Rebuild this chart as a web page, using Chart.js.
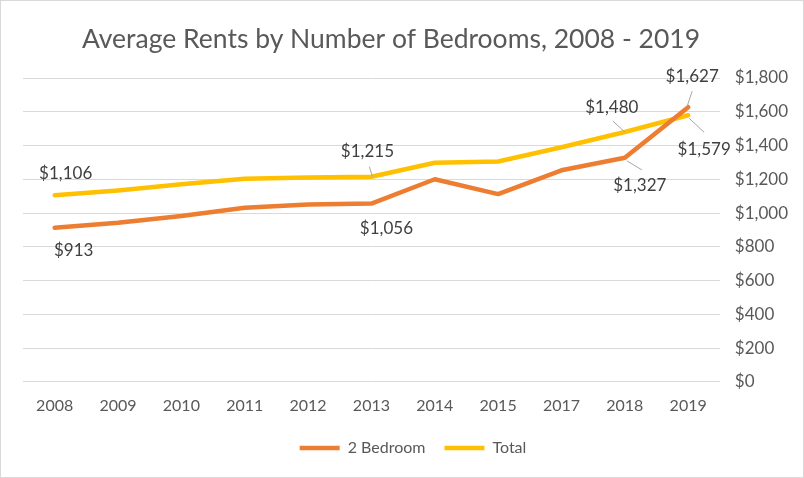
<!DOCTYPE html>
<html>
<head>
<meta charset="utf-8">
<script src="https://cdn.jsdelivr.net/npm/chart.js@4"></script>
<style>
  html, body { margin: 0; padding: 0; background: #fff; }
  #wrap { width: 802px; height: 476px; border: 1px solid #d9d9d9; position: relative; }
</style>
</head>
<body>
<div id="wrap"><canvas id="rents-chart" width="802" height="476"></canvas></div>
<script>
// 数据
const years = ['2008', '2009', '2010', '2011', '2012', '2013', '2014', '2015', '2017', '2018', '2019'];
const bedroom2 = [913, 943, 982, 1031, 1051, 1056, 1200, 1112, 1253, 1327, 1627];
const total = [1106, 1134, 1170, 1203, 1210, 1215, 1298, 1305, 1390, 1480, 1579];
const yTicks = [0, 200, 400, 600, 800, 1000, 1200, 1400, 1600, 1800];
const chartTitle = 'Average Rents by Number of Bedrooms, 2008 - 2019';

const FONT = 'Lato, "Open Sans", sans-serif';

// 标注：数据集、索引、相对点的偏移、引导线
const callouts = [
  { ds: 1, i: 0, dx: 11, dy: -22 },
  { ds: 0, i: 0, dx: 19, dy: 23 },
  { ds: 1, i: 5, dx: -4, dy: -25, line: [-2, -10, 1, 0] },
  { ds: 0, i: 5, dx: 15, dy: 25 },
  { ds: 1, i: 9, dx: -13, dy: -24, line: [-12, -11, 0, 0] },
  { ds: 0, i: 9, dx: 15, dy: 28, line: [2, 3, 17, 12] },
  { ds: 0, i: 10, dx: 4, dy: -31, line: [4, -16, -1, -1] },
  { ds: 1, i: 10, dx: 16, dy: 34, line: [1, 3, 16, 17] }
];

const fmt = v => '$' + v.toLocaleString('en-US');

// 标题（Excel 的标题略偏左，自己画）
const titlePlugin = {
  id: 'leftTitle',
  afterDraw(chart) {
    const ctx = chart.ctx;
    ctx.save();
    ctx.fillStyle = '#595959';
    ctx.font = '26.5px ' + FONT;
    ctx.textAlign = 'center';
    ctx.textBaseline = 'middle';
    ctx.fillText(chartTitle, 390, 38);
    ctx.restore();
  }
};

const calloutPlugin = {
  id: 'callouts',
  afterDatasetsDraw(chart) {
    const ctx = chart.ctx;
    ctx.save();
    callouts.forEach(c => {
      const pt = chart.getDatasetMeta(c.ds).data[c.i];
      const value = chart.data.datasets[c.ds].data[c.i];
      if (c.line) {
        ctx.strokeStyle = '#a6a6a6';
        ctx.lineWidth = 1;
        ctx.beginPath();
        ctx.moveTo(pt.x + c.line[0], pt.y + c.line[1]);
        ctx.lineTo(pt.x + c.line[2], pt.y + c.line[3]);
        ctx.stroke();
      }
      ctx.fillStyle = '#404040';
      ctx.font = '17px ' + FONT;
      ctx.textAlign = 'center';
      ctx.textBaseline = 'middle';
      ctx.fillText(fmt(value), pt.x + c.dx, pt.y + c.dy);
    });
    ctx.restore();
  }
};

new Chart(document.getElementById('rents-chart'), {
  type: 'line',
  data: {
    labels: years,
    datasets: [
      {
        label: '2 Bedroom',
        data: bedroom2,
        borderColor: '#ed7d31',
        backgroundColor: '#ed7d31',
        borderWidth: 4.5,
        pointRadius: 0,
        tension: 0,
        borderCapStyle: 'round',
        borderJoinStyle: 'round'
      },
      {
        label: 'Total',
        data: total,
        borderColor: '#ffc000',
        backgroundColor: '#ffc000',
        borderWidth: 4.5,
        pointRadius: 0,
        tension: 0,
        borderCapStyle: 'round',
        borderJoinStyle: 'round'
      }
    ]
  },
  options: {
    responsive: false,
    animation: false,
    layout: { padding: { left: 22, right: 0, top: 77, bottom: 11 } },
    plugins: {
      title: { display: false },
      legend: {
        position: 'bottom',
        labels: {
          color: '#595959',
          font: { family: FONT, size: 16 },
          usePointStyle: true,
          pointStyle: 'line',
          pointStyleWidth: 40,
          padding: 19
        }
      },
      tooltip: { enabled: false }
    },
    scales: {
      x: {
        offset: true,
        grid: { display: false },
        border: { display: false },
        ticks: { color: '#595959', font: { family: FONT, size: 16 }, padding: 6, maxRotation: 0 }
      },
      y: {
        position: 'right',
        min: 0,
        max: 1800,
        afterBuildTicks(axis) { axis.ticks = yTicks.map(v => ({ value: v })); },
        grid: { color: '#d9d9d9', lineWidth: 1, drawTicks: false },
        border: { display: false },
        ticks: { color: '#595959', font: { family: FONT, size: 17 }, padding: 15, callback: v => fmt(v) }
      }
    }
  },
  plugins: [calloutPlugin, titlePlugin]
});
</script>
</body>
</html>
